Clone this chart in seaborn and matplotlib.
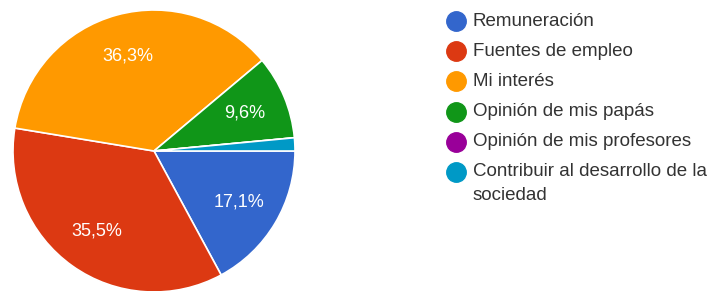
import matplotlib.pyplot as plt
import seaborn as sns
from matplotlib.lines import Line2D

# datos (porcentaje de respuestas)
categorias = ["Remuneración", "Fuentes de empleo", "Mi interés",
              "Opinión de mis papás", "Opinión de mis profesores",
              "Contribuir al desarrollo de la\nsociedad"]
porcentajes = [17.1, 35.5, 36.3, 9.6, 0.0, 1.5]
colores = ["#3366cc", "#dc3912", "#ff9900", "#109618", "#990099", "#0099c6"]

sns.set_theme(style="white")
plt.rcParams['font.family'] = ['Liberation Sans', 'DejaVu Sans']

fig = plt.figure(figsize=(7.12, 2.91), dpi=100)
W, H = 712, 291
# pie: centro (154, 151) px, radio 141 px
ax = fig.add_axes([(154 - 141) / W, 1 - (151 + 141) / H, 282 / W, 282 / H])

paleta = sns.color_palette(colores)


def etiqueta(p):
    if p < 5:
        return ""
    return f"{p:.1f}".replace(".", ",") + "%"


wedges, textos, autotextos = ax.pie(
    porcentajes, colors=paleta, startangle=0, counterclock=False,
    autopct=etiqueta, pctdistance=0.7, radius=1,
    wedgeprops=dict(edgecolor="white", linewidth=1.2),
    textprops=dict(color="white", fontsize=13))
ax.set_xlim(-1, 1)
ax.set_ylim(-1, 1)
ax.set_aspect("equal")
ax.axis("off")

# leyenda a la derecha
x_marca, x_texto = 456, 473
y0, paso, interlinea = 21, 30.2, 24
for i, (lab, col) in enumerate(zip(categorias, paleta)):
    y = y0 + i * paso
    fig.add_artist(Line2D([x_marca / W], [1 - y / H], marker="o", markersize=14,
                          color=col, linestyle="none", transform=fig.transFigure))
    for j, linea in enumerate(lab.split("\n")):
        fig.text(x_texto / W, 1 - (y + j * interlinea) / H, linea, fontsize=13.5,
                 color="#333333", va="center", transform=fig.transFigure)

plt.savefig("out.png", dpi=100)
